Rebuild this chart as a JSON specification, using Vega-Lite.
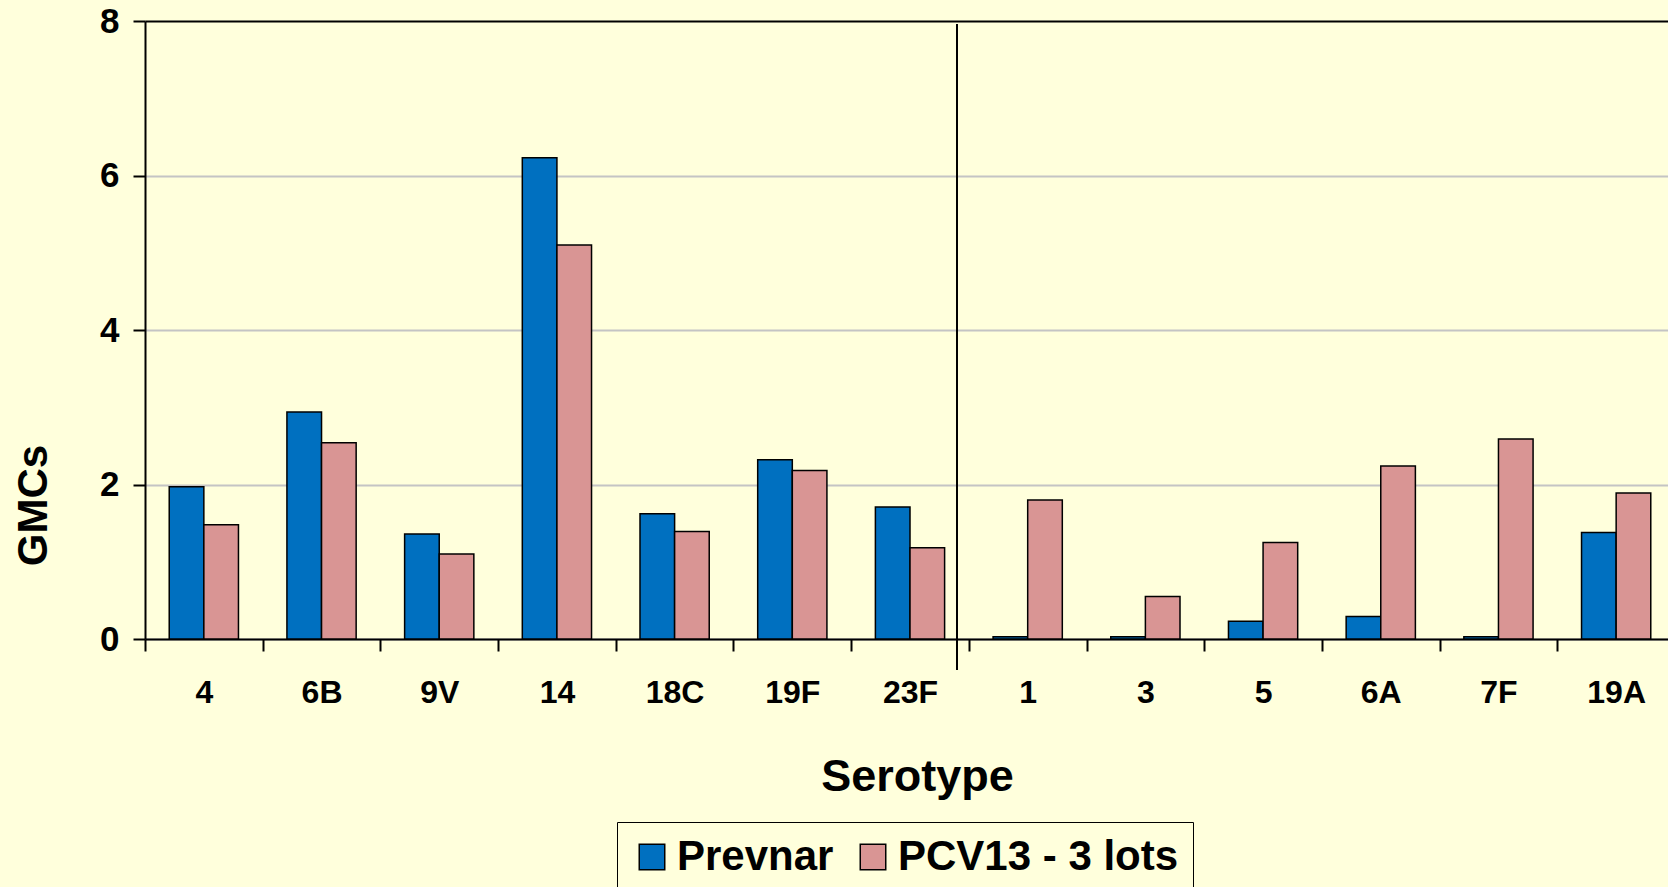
{
  "$schema": "https://vega.github.io/schema/vega-lite/v6.json",
  "width": 1523,
  "height": 618,
  "autosize": {"type": "none"},
  "padding": {"left": 145, "top": 21, "right": 0, "bottom": 248},
  "background": "#FFFFDC",
  "config": {"view": {"stroke": null}, "font": "Liberation Sans"},
  "layer": [
    {
      "data": {"values": [
        {"Serotype": "4", "Series": "Prevnar", "GMC": 1.97},
        {"Serotype": "4", "Series": "PCV13 - 3 lots", "GMC": 1.48},
        {"Serotype": "6B", "Series": "Prevnar", "GMC": 2.94},
        {"Serotype": "6B", "Series": "PCV13 - 3 lots", "GMC": 2.54},
        {"Serotype": "9V", "Series": "Prevnar", "GMC": 1.36},
        {"Serotype": "9V", "Series": "PCV13 - 3 lots", "GMC": 1.10},
        {"Serotype": "14", "Series": "Prevnar", "GMC": 6.23},
        {"Serotype": "14", "Series": "PCV13 - 3 lots", "GMC": 5.10},
        {"Serotype": "18C", "Series": "Prevnar", "GMC": 1.62},
        {"Serotype": "18C", "Series": "PCV13 - 3 lots", "GMC": 1.39},
        {"Serotype": "19F", "Series": "Prevnar", "GMC": 2.32},
        {"Serotype": "19F", "Series": "PCV13 - 3 lots", "GMC": 2.18},
        {"Serotype": "23F", "Series": "Prevnar", "GMC": 1.71},
        {"Serotype": "23F", "Series": "PCV13 - 3 lots", "GMC": 1.18},
        {"Serotype": "1", "Series": "Prevnar", "GMC": 0.03},
        {"Serotype": "1", "Series": "PCV13 - 3 lots", "GMC": 1.80},
        {"Serotype": "3", "Series": "Prevnar", "GMC": 0.03},
        {"Serotype": "3", "Series": "PCV13 - 3 lots", "GMC": 0.55},
        {"Serotype": "5", "Series": "Prevnar", "GMC": 0.23},
        {"Serotype": "5", "Series": "PCV13 - 3 lots", "GMC": 1.25},
        {"Serotype": "6A", "Series": "Prevnar", "GMC": 0.29},
        {"Serotype": "6A", "Series": "PCV13 - 3 lots", "GMC": 2.24},
        {"Serotype": "7F", "Series": "Prevnar", "GMC": 0.03},
        {"Serotype": "7F", "Series": "PCV13 - 3 lots", "GMC": 2.59},
        {"Serotype": "19A", "Series": "Prevnar", "GMC": 1.38},
        {"Serotype": "19A", "Series": "PCV13 - 3 lots", "GMC": 1.89}
      ]},
      "mark": {"type": "bar", "stroke": "black", "strokeWidth": 1.5},
      "encoding": {
        "x": {
          "field": "Serotype", "type": "nominal", "title": "Serotype",
          "scale": {"domain": ["4","6B","9V","14","18C","19F","23F","1","3","5","6A","7F","19A"], "range": [0, 1530], "paddingInner": 0, "paddingOuter": 0},
          "axis": {
            "tickBand": "extent", "tickSize": 12, "tickWidth": 2, "tickColor": "black",
            "domainColor": "black", "domainWidth": 2, "grid": false,
            "labelAngle": 0, "labelFont": "Liberation Sans", "labelFontWeight": "bold", "labelFontSize": 32, "labelColor": "black", "labelPadding": 26,
            "titleFont": "Liberation Sans", "titleFontWeight": "bold", "titleFontSize": 45, "titleColor": "black",
            "titleX": 772, "titleY": 151, "titleBaseline": "alphabetic", "titleAlign": "center"
          }
        },
        "xOffset": {"field": "Series", "type": "nominal", "scale": {"domain": ["Prevnar", "PCV13 - 3 lots"], "paddingOuter": 0.7, "paddingInner": 0}},
        "y": {
          "field": "GMC", "type": "quantitative", "title": "GMCs",
          "scale": {"domain": [0, 8], "nice": false},
          "axis": {
            "values": [0, 2, 4, 6, 8], "format": "d", "tickSize": 12, "tickWidth": 2, "tickColor": "black",
            "domainColor": "black", "domainWidth": 2,
            "grid": true, "gridWidth": 2,
            "gridColor": {"condition": {"test": "datum.value === 8", "value": "black"}, "value": "#C4C4C4"},
            "labelFont": "Liberation Sans", "labelFontWeight": "bold", "labelFontSize": 35, "labelColor": "black", "labelPadding": 14,
            "titleFont": "Liberation Sans", "titleFontWeight": "bold", "titleFontSize": 42, "titleColor": "black",
            "titleX": -112, "titleY": 484, "titleBaseline": "middle", "titleAlign": "center", "titleAngle": 270
          }
        },
        "color": {
          "field": "Series", "type": "nominal",
          "scale": {"domain": ["Prevnar", "PCV13 - 3 lots"], "range": ["#0070C0", "#D99594"]},
          "legend": {
            "orient": "none", "legendX": 472, "legendY": 801, "direction": "horizontal", "title": null,
            "symbolType": "square", "symbolSize": 650, "symbolStrokeColor": "black", "symbolStrokeWidth": 1.5, "symbolOpacity": 1,
            "labelFont": "Liberation Sans", "labelFontSize": 42, "labelFontWeight": "bold", "labelColor": "black",
            "labelOffset": 4, "columnPadding": 18, "padding": 14, "labelLimit": 0,
            "strokeColor": "black", "fillColor": "#FFFFDC"
          }
        }
      }
    },
    {
      "data": {"values": [{"Serotype": "23F", "top": 7.96, "bottom": -0.4}]},
      "mark": {"type": "rule", "color": "black", "strokeWidth": 2, "xOffset": 47},
      "encoding": {
        "x": {"field": "Serotype", "type": "nominal"},
        "y": {"field": "top", "type": "quantitative"},
        "y2": {"field": "bottom"}
      }
    }
  ]
}
